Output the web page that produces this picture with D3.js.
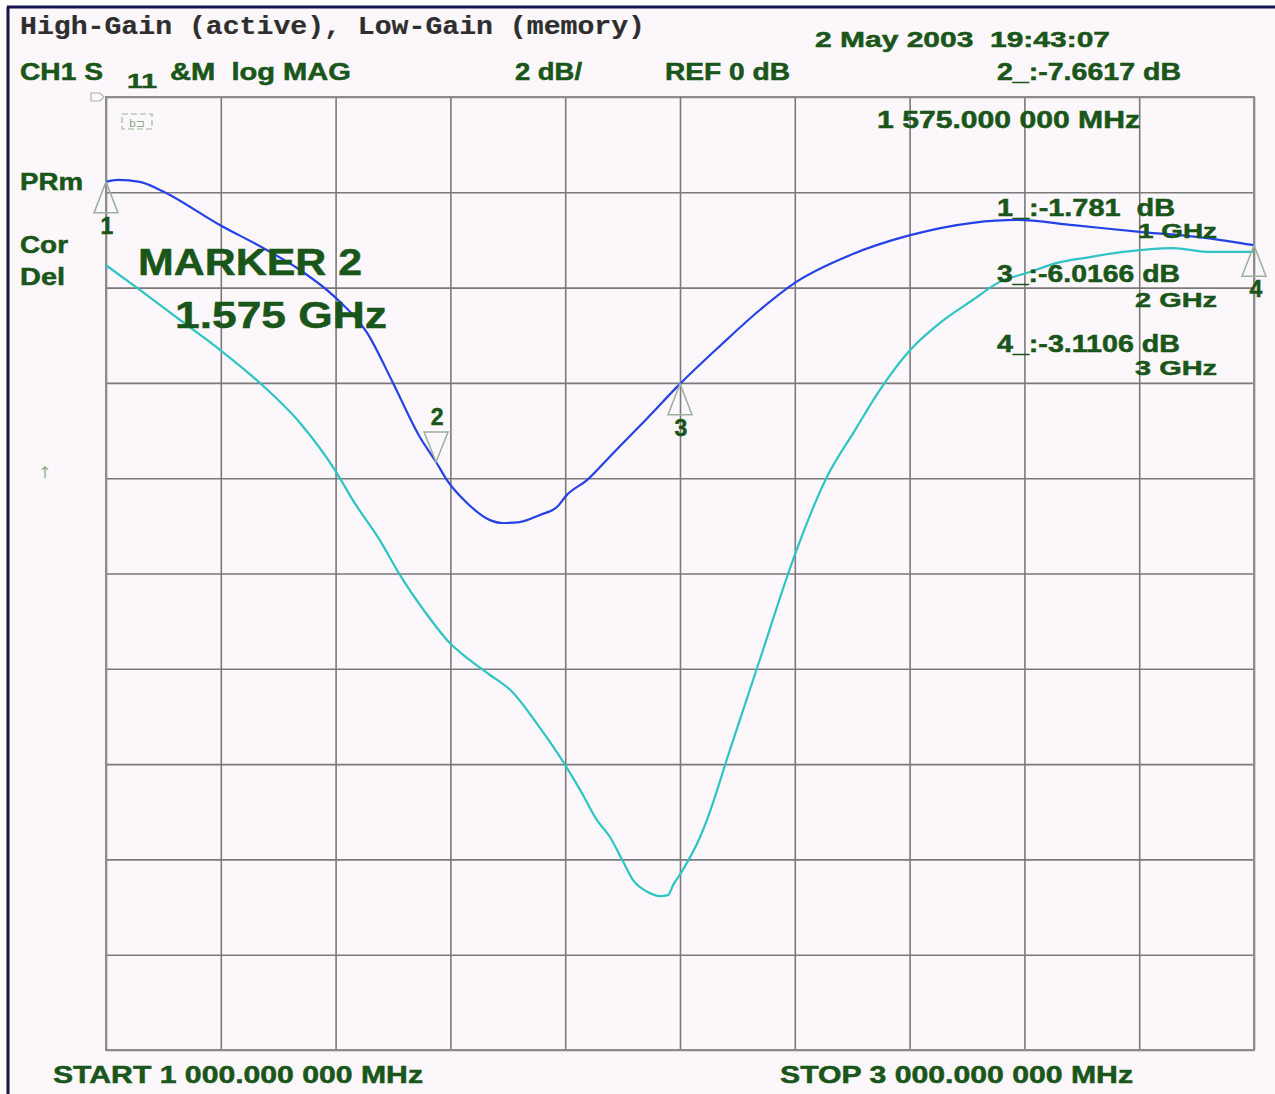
<!DOCTYPE html>
<html>
<head>
<meta charset="utf-8">
<script src="https://cdn.jsdelivr.net/npm/d3@7"></script>
<style>
  body { margin: 0; background: #ffffff; }
  svg { display: block; }
  text { white-space: pre; }
</style>
</head>
<body>
<svg id="chart" width="1275" height="1094"></svg>
<script>
// active trace (High-Gain), GHz / dB
const activeFreq = [1.000, 1.021, 1.059, 1.094, 1.199, 1.280, 1.338, 1.399, 1.455, 1.500, 1.547, 1.575, 1.594, 1.629, 1.669, 1.690, 1.721, 1.756, 1.786, 1.803, 1.838, 1.883, 1.943, 2.000, 2.070, 2.139, 2.200, 2.296, 2.401, 2.510, 2.587, 2.685, 2.801, 2.918, 3.000];
const activeDb = [-1.78, -1.74, -1.78, -1.95, -2.69, -3.21, -3.63, -4.20, -4.95, -6.00, -7.14, -7.66, -8.04, -8.52, -8.88, -8.94, -8.92, -8.77, -8.60, -8.35, -8.04, -7.48, -6.74, -6.02, -5.22, -4.47, -3.90, -3.32, -2.90, -2.64, -2.58, -2.69, -2.83, -2.96, -3.11];

// memory trace (Low-Gain)
const memoryFreq = [1.000, 1.059, 1.129, 1.199, 1.268, 1.338, 1.399, 1.430, 1.477, 1.512, 1.556, 1.599, 1.634, 1.669, 1.704, 1.756, 1.800, 1.826, 1.855, 1.878, 1.901, 1.918, 1.943, 1.965, 1.979, 1.988, 2.005, 2.035, 2.047, 2.087, 2.139, 2.200, 2.254, 2.305, 2.348, 2.401, 2.453, 2.510, 2.557, 2.605, 2.657, 2.714, 2.772, 2.859, 2.918, 3.000];
const memoryDb = [-3.53, -4.05, -4.68, -5.31, -6.00, -6.84, -7.83, -8.46, -9.30, -10.03, -10.81, -11.46, -11.82, -12.13, -12.44, -13.24, -14.02, -14.54, -15.17, -15.53, -16.05, -16.43, -16.68, -16.77, -16.75, -16.54, -16.22, -15.53, -15.17, -13.70, -11.81, -9.61, -8.02, -6.99, -6.15, -5.31, -4.74, -4.26, -3.88, -3.69, -3.48, -3.36, -3.25, -3.17, -3.25, -3.25];

const markerNames = ["1", "2", "3", "4"];
const markerFreq = [1, 1.575, 2, 3];
const markerDb = [-1.781, -7.6617, -6.0166, -3.1106];

const freqTicks = d3.range(0, 11).map(i => 1 + i * 0.2);
const dbTicks = d3.range(0, 11).map(i => -2 * i);

const svg = d3.select("#chart");
const green = "#1a561a";

// screen background and frame
svg.append("rect").attr("x", 8).attr("y", 7).attr("width", 1267).attr("height", 1087).attr("fill", "#fcf7fb");
svg.append("line").attr("x1", 8).attr("y1", 7).attr("x2", 8).attr("y2", 1094).attr("stroke", "#14144e").attr("stroke-width", 3);
svg.append("line").attr("x1", 7).attr("y1", 7).attr("x2", 1275).attr("y2", 7).attr("stroke", "#14144e").attr("stroke-width", 3);

const gLeft = 106, gRight = 1254, gTop = 97, gBottom = 1050;
const x = d3.scaleLinear().domain([1, 3]).range([gLeft, gRight]);
const y = d3.scaleLinear().domain([0, -20]).range([gTop, gBottom]);

// grid
svg.append("g")
    .attr("transform", "translate(0," + gBottom + ")")
    .call(d3.axisBottom(x).tickValues(freqTicks).tickSize(-(gBottom - gTop)).tickFormat(""))
    .call(g => g.select(".domain").remove())
    .call(g => g.selectAll("line").attr("stroke", "#7a7a7a").attr("stroke-width", 1.6));
svg.append("g")
    .attr("transform", "translate(" + gLeft + ",0)")
    .call(d3.axisLeft(y).tickValues(dbTicks).tickSize(-(gRight - gLeft)).tickFormat(""))
    .call(g => g.select(".domain").remove())
    .call(g => g.selectAll("line").attr("stroke", "#7a7a7a").attr("stroke-width", 1.6));
svg.append("rect").attr("x", gLeft).attr("y", gTop).attr("width", gRight - gLeft).attr("height", gBottom - gTop)
    .attr("fill", "none").attr("stroke", "#8c8c8c").attr("stroke-width", 2);

// traces
const line = d3.line().curve(d3.curveMonotoneX).x(d => x(d[0])).y(d => y(d[1]));
svg.append("path")
    .datum(memoryFreq.map((f, i) => [f, memoryDb[i]]))
    .attr("fill", "none").attr("stroke", "#2ec4c4").attr("stroke-width", 2.2)
    .attr("d", line);
svg.append("path")
    .datum(activeFreq.map((f, i) => [f, activeDb[i]]))
    .attr("fill", "none").attr("stroke", "#2442e6").attr("stroke-width", 2.2)
    .attr("d", line);

// markers
markerNames.forEach(function(name, i) {
    const mx = x(markerFreq[i]), my = y(markerDb[i]);
    const down = (name === "2");
    const h = down ? -30 : 31, w = 12;
    svg.append("path")
        .attr("d", "M" + mx + "," + my + " L" + (mx - w) + "," + (my + h) + " L" + (mx + w) + "," + (my + h) + " Z")
        .attr("fill", "none").attr("stroke", "#9cb09c").attr("stroke-width", 1.5);
    svg.append("text")
        .attr("x", mx + (name === "4" ? 2 : 1))
        .attr("y", down ? my - 37 : my + 52)
        .attr("text-anchor", "middle")
        .style("font-family", "Liberation Sans, Arial").style("font-weight", "bold")
        .style("font-size", "23px").style("fill", green)
        .style("stroke", green).style("stroke-width", 0.5)
        .text(name);
});

// annotations
function label(txt, tx, ty, size, width, opts) {
    opts = opts || {};
    const t = svg.append("text").attr("x", tx).attr("y", ty)
        .style("font-family", opts.mono ? "Liberation Mono, Courier New, monospace" : "Liberation Sans, Arial")
        .style("font-weight", "bold")
        .style("font-size", size + "px")
        .style("fill", opts.color || green)
        .style("stroke", opts.color || green).style("stroke-width", opts.mono ? 0.2 : 0.5)
        .text(txt);
    if (width) t.attr("textLength", width).attr("lengthAdjust", "spacingAndGlyphs");
    return t;
}

label("High-Gain (active), Low-Gain (memory)", 20, 34, 25, 625, {mono: true, color: "#2e2e2e"});
label("CH1 S", 20, 80, 23, 83);
label("11", 127, 88, 21, 30);
label("&M  log MAG", 170, 80, 23, 181);
label("2 dB/", 515, 80, 23, 67);
label("REF 0 dB", 665, 80, 23, 125);
label("2 May 2003  19:43:07", 815, 47, 22, 295);
label("2_:-7.6617 dB", 997, 80, 23, 184);
label("1 575.000 000 MHz", 877, 128, 23, 263);

label("PRm", 20, 190, 23, 63);
label("Cor", 20, 253, 23, 48);
label("Del", 20, 285, 23, 45);

label("MARKER 2", 138, 275, 37, 224);
label("1.575 GHz", 175, 328, 37, 212);

label("1_:-1.781  dB", 997, 216, 23, 178);
label("1 GHz", 1138, 238, 21, 79);
label("3_:-6.0166 dB", 997, 282, 23, 183);
label("2 GHz", 1135, 307, 21, 82);
label("4_:-3.1106 dB", 997, 352, 23, 183);
label("3 GHz", 1135, 375, 21, 82);

label("START 1 000.000 000 MHz", 53, 1083, 23, 370);
label("STOP 3 000.000 000 MHz", 780, 1083, 23, 353);

// small screen glyphs
svg.append("path").attr("d", "M91,93 L100,93 L104,97 L100,101 L91,101 Z")
    .attr("fill", "none").attr("stroke", "#a8b8a8").attr("stroke-width", 1.2);
svg.append("rect").attr("x", 122).attr("y", 114).attr("width", 30).attr("height", 15)
    .attr("fill", "none").attr("stroke", "#9cb89c").attr("stroke-width", 1.2).attr("stroke-dasharray", "6,3");
svg.append("text").attr("x", 137).attr("y", 127).attr("text-anchor", "middle")
    .style("font-family", "DejaVu Sans").style("font-size", "11px").style("fill", "#8cac8c").text("b\u2290");
svg.append("text").attr("x", 45).attr("y", 478).attr("text-anchor", "middle")
    .style("font-family", "DejaVu Sans").style("font-size", "16px").style("fill", "#8cb08c").text("\u2191");
</script>
</body>
</html>
